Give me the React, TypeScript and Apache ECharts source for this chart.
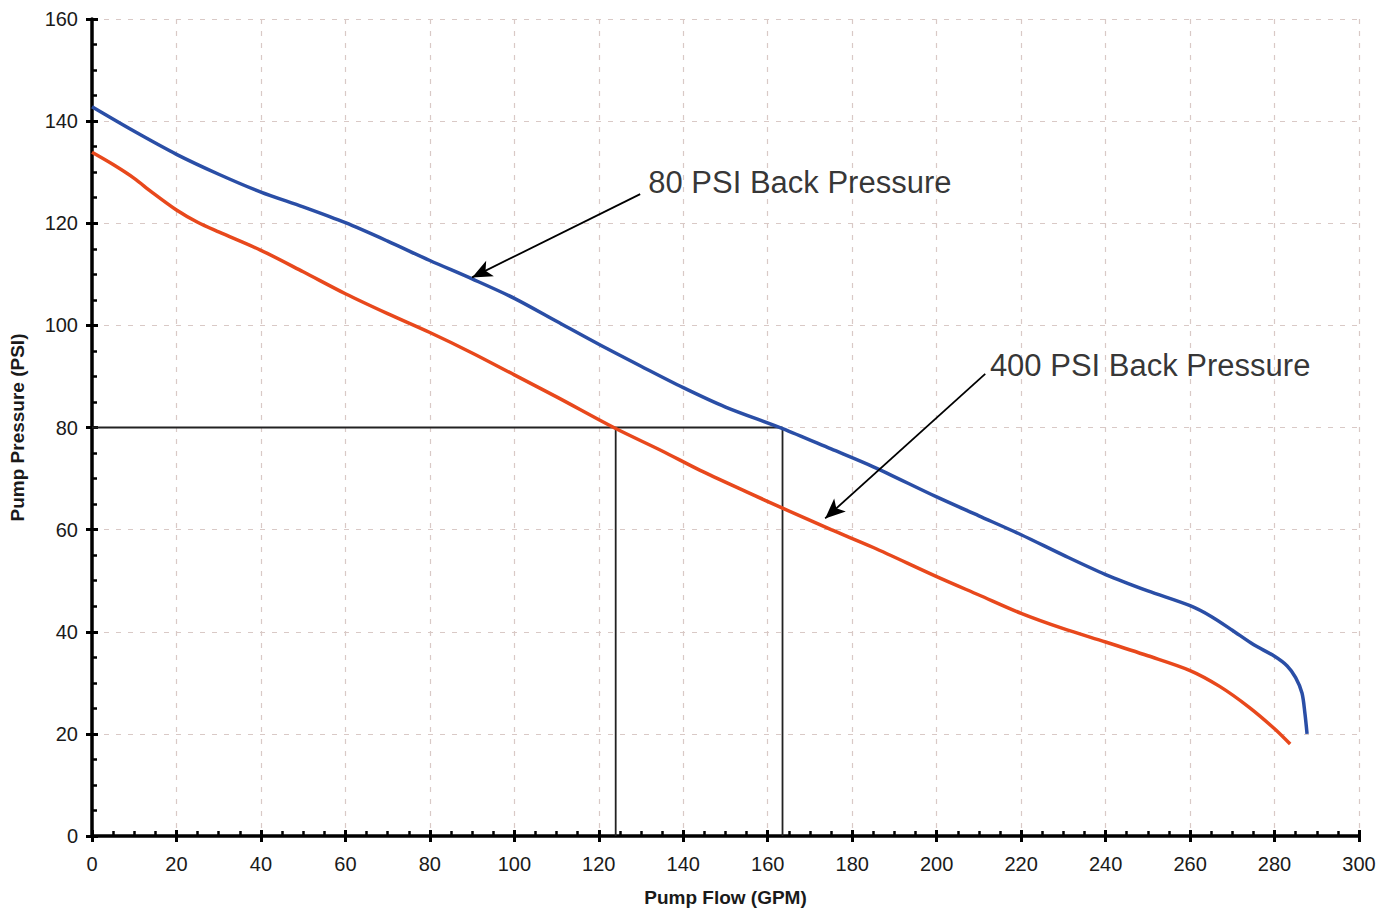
import React, { useEffect, useRef } from "react";
import * as echarts from "echarts";

const blueX = [0, 10, 20, 30, 40, 50, 60, 70, 80, 90, 100, 110, 120, 130, 140, 150, 163.5, 175, 185, 200, 210, 220, 230, 240, 250, 260, 265, 270, 275, 280, 283, 285, 286.5, 287.2, 287.7];
const blueY = [142.8, 138, 133.5, 129.6, 126.1, 123.2, 120.1, 116.5, 112.7, 109.1, 105.3, 100.8, 96.3, 92, 87.8, 84, 79.8, 75.8, 72.3, 66.4, 62.7, 59, 55, 51.2, 48, 45.1, 43, 40.3, 37.5, 35.2, 33.3, 31, 28, 24, 20];

const redX = [0, 5, 10, 14, 20, 25, 30, 40, 50, 60, 70, 80, 90, 100, 110, 124, 135, 144, 155, 163.5, 175, 185, 200, 210, 220, 230, 240, 250, 260, 267, 274, 280, 283.7];
const redY = [133.9, 131.5, 128.8, 126.2, 122.6, 120.2, 118.3, 114.7, 110.5, 106.2, 102.3, 98.6, 94.6, 90.3, 86, 79.8, 75.4, 71.6, 67.4, 64.2, 60, 56.5, 50.8, 47.2, 43.6, 40.6, 38, 35.3, 32.4, 29.3, 25.2, 21, 18];

// operating-point guide lines [x, y]
const guideH = [[0, 80], [163.5, 80]];
const guideV1 = [[124, 0], [124, 80]];
const guideV2 = [[163.5, 0], [163.5, 80]];

// annotations: label anchor and arrow (start -> tip), in data units
const annLabels = ["80 PSI Back Pressure", "400 PSI Back Pressure"];
const annLabelPos = [[131.7, 128], [212.6, 92.1]];
const annArrowStart = [[129.8, 125.7], [211.5, 90.5]];
const annArrowEnd = [[90, 109.4], [173.6, 62.2]];

const FONT = "'Liberation Sans', Arial, sans-serif";

export default function App() {
  const ref = useRef<HTMLDivElement>(null);
  useEffect(() => {
    if (!ref.current) return;
    const chart = echarts.init(ref.current, undefined, { renderer: "svg" });
    const zip = (xs: number[], ys: number[]) => xs.map((x, i) => [x, ys[i]]);
    const gridDash = { color: "#d9c9c6", width: 1.2, type: [5, 7] as any };
    const baseX = { type: "value" as const, min: 0, max: 300, interval: 20 };
    const baseY = { type: "value" as const, min: 0, max: 160, interval: 20 };
    const guideStyle = { color: "#222", width: 1.8 };
    chart.setOption({
      animation: false,
      backgroundColor: "#ffffff",
      textStyle: { fontFamily: FONT },
      grid: { left: 92, right: 34, top: 19, bottom: 73, containLabel: false },
      xAxis: [
        {
          ...baseX,
          position: "bottom",
          name: "Pump Flow (GPM)",
          nameLocation: "middle",
          nameGap: 52,
          nameTextStyle: { fontFamily: FONT, fontSize: 19, fontWeight: "bold", color: "#1a1a1a" },
          axisLine: { show: true, onZero: false, lineStyle: { color: "#000", width: 3.5 } },
          axisTick: { show: true, inside: false, length: 6, lineStyle: { color: "#000", width: 3 } },
          axisLabel: { fontFamily: FONT, fontSize: 20, color: "#1a1a1a", margin: 18 },
          splitLine: { show: true, lineStyle: gridDash },
        },
        {
          ...baseX,
          position: "bottom",
          axisLine: { show: false },
          axisTick: { show: true, inside: true, length: 6, lineStyle: { color: "#000", width: 3 } },
          minorTick: { show: true, splitNumber: 4, length: 5, lineStyle: { color: "#000", width: 2.5 } },
          axisLabel: { show: false },
          splitLine: { show: false },
        },
      ],
      yAxis: [
        {
          ...baseY,
          position: "left",
          name: "Pump Pressure (PSI)",
          nameLocation: "middle",
          nameGap: 65,
          nameTextStyle: { fontFamily: FONT, fontSize: 19, fontWeight: "bold", color: "#1a1a1a" },
          axisLine: { show: true, onZero: false, lineStyle: { color: "#000", width: 3.5 } },
          axisTick: { show: true, inside: false, length: 6, lineStyle: { color: "#000", width: 3 } },
          axisLabel: { fontFamily: FONT, fontSize: 20, color: "#1a1a1a", margin: 14 },
          splitLine: { show: true, lineStyle: gridDash },
        },
        {
          ...baseY,
          position: "left",
          axisLine: { show: false },
          axisTick: { show: true, inside: true, length: 6, lineStyle: { color: "#000", width: 3 } },
          minorTick: { show: true, splitNumber: 4, length: 5, lineStyle: { color: "#000", width: 2.5 } },
          axisLabel: { show: false },
          splitLine: { show: false },
        },
      ],
      series: [
        { type: "line", data: guideH, symbol: "none", lineStyle: guideStyle, z: 1 },
        { type: "line", data: guideV1, symbol: "none", lineStyle: guideStyle, z: 1 },
        { type: "line", data: guideV2, symbol: "none", lineStyle: guideStyle, z: 1 },
        {
          name: "400 PSI Back Pressure",
          type: "line",
          data: zip(redX, redY),
          symbol: "none",
          smooth: 0.3,
          lineStyle: { color: "#e8481c", width: 3.5 },
          z: 3,
        },
        {
          name: "80 PSI Back Pressure",
          type: "line",
          data: zip(blueX, blueY),
          symbol: "none",
          smooth: 0.3,
          lineStyle: { color: "#2a4ea6", width: 3.5 },
          z: 3,
        },
        {
          type: "scatter",
          symbolSize: 0,
          z: 5,
          data: annLabelPos.map((p, i) => ({ value: p, name: annLabels[i] })),
          label: {
            show: true,
            position: "right",
            distance: 0,
            formatter: (p: any) => p.name,
            fontFamily: FONT,
            fontSize: 31,
            color: "#000",
          },
          markLine: {
            silent: true,
            symbol: ["none", "arrow"],
            symbolSize: [13, 20],
            label: { show: false },
            lineStyle: { color: "#000", width: 1.8, type: "solid" },
            data: annArrowStart.map((s, i) => [{ coord: s }, { coord: annArrowEnd[i] }]),
          },
        },
      ],
    });
    return () => chart.dispose();
  }, []);
  return (
    <div
      ref={ref}
      style={{ position: "fixed", left: 0, top: 0, width: 1393, height: 912, background: "#fff" }}
    />
  );
}
